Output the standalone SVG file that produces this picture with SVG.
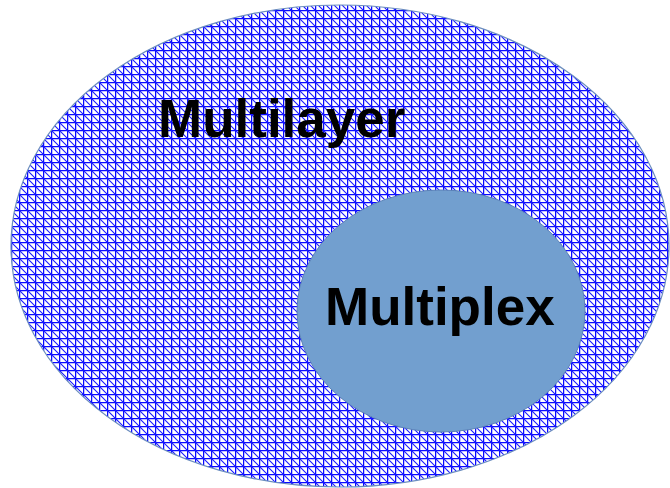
<svg xmlns="http://www.w3.org/2000/svg" width="670" height="488" viewBox="0 0 670 488">
  <defs>
    <!-- blue cross-hatch with a diagonal stroke -->
    <pattern id="hatch" patternUnits="userSpaceOnUse" x="3" y="2" width="8" height="8">
      <rect width="8" height="8" fill="#ffffff"/>
      <path d="M0 0.5H8M0.5 0V8" stroke="#0a0aff" stroke-width="1.5" fill="none"/>
      <path d="M0 0L8 8M-4 4L4 12M4 -4L12 4" stroke="#1a1aff" stroke-width="1.1" fill="none"/>
    </pattern>
  </defs>
  <style>
    .label { font-family: "Liberation Sans", Arial, sans-serif; font-weight: bold; font-size: 53px; fill: #000; }
  </style>
  <rect width="670" height="488" fill="#ffffff"/>
  <g id="multilayer">
    <ellipse cx="340" cy="246" rx="329" ry="241" fill="url(#hatch)" stroke="#6c8ebf" stroke-width="1.2"/>
    <text class="label" x="158" y="137">Multilayer</text>
  </g>
  <g id="multiplex">
    <ellipse cx="441" cy="311" rx="144" ry="121" fill="#729fcf" stroke="#5b82b8" stroke-width="1"/>
    <text class="label" x="325" y="325">Multiplex</text>
  </g>
  <g id="connectors"/>
</svg>
